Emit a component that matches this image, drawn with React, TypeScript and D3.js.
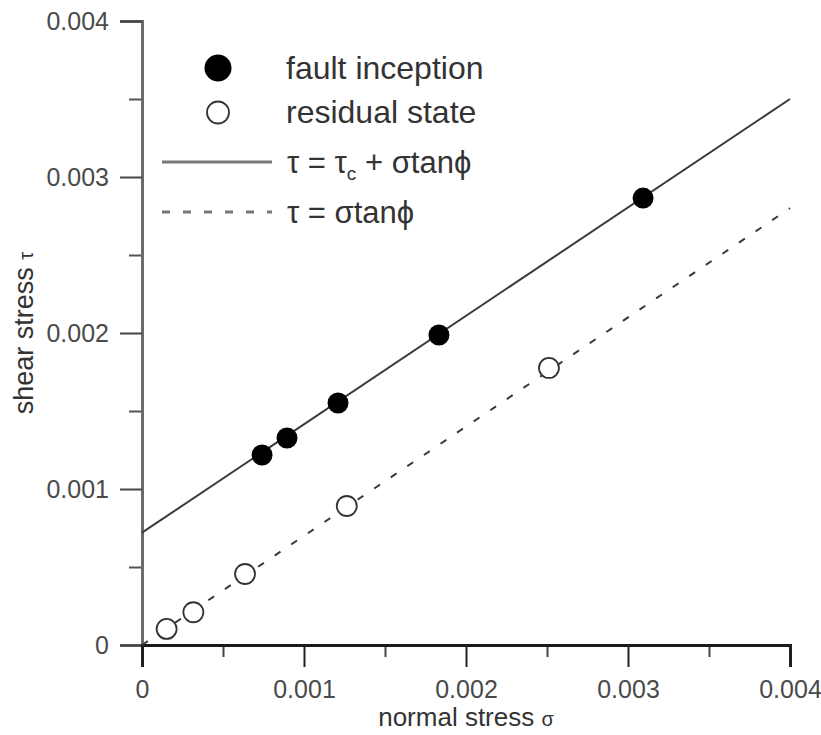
import { useEffect, useRef } from 'react';
import * as d3 from 'd3';

// fault inception (filled) and residual state (open) measurements
const inceptionSigma = [0.000741, 0.000895, 0.00121, 0.001833, 0.003093];
const inceptionTau = [0.001218, 0.001327, 0.001551, 0.001987, 0.002865];
const residualSigma = [0.000152, 0.000317, 0.000636, 0.001264, 0.002512];
const residualTau = [0.000103, 0.00021, 0.000455, 0.000891, 0.001776];

// fitted envelopes: [sigma, tau] end points
const peakFit = [[0, 0.00072], [0.004, 0.0035]];
const residualFit = [[0, 0], [0.004, 0.0028]];

const majorTicks = [0, 0.001, 0.002, 0.003, 0.004];
const minorTicks = [0.0005, 0.0015, 0.0025, 0.0035];
const tickLabels = ['0', '0.001', '0.002', '0.003', '0.004'];

const FONT = '"Liberation Sans", Arial, Helvetica, sans-serif';

export default function App() {
  const svgRef = useRef<SVGSVGElement | null>(null);

  useEffect(() => {
    if (!svgRef.current) return;
    const svg = d3.select(svgRef.current);
    svg.selectAll('*').remove();

    const x = d3.scaleLinear().domain([0, 0.004]).range([142, 790]);
    const y = d3.scaleLinear().domain([0, 0.004]).range([645, 21]);
    const fmt = (d: d3.NumberValue) => tickLabels[majorTicks.indexOf(+d)] ?? '';

    // minor ticks
    svg.append('g')
      .attr('transform', `translate(0,${y(0)})`)
      .call(d3.axisBottom(x).tickValues(minorTicks).tickSize(12).tickFormat(() => ''))
      .call(g => g.select('.domain').remove())
      .selectAll('line').attr('stroke', '#444').attr('stroke-width', 2);

    svg.append('g')
      .attr('transform', `translate(${x(0)},0)`)
      .call(d3.axisLeft(y).tickValues(minorTicks).tickSize(13).tickFormat(() => ''))
      .call(g => g.select('.domain').remove())
      .selectAll('line').attr('stroke', '#555').attr('stroke-width', 2);

    // y axis
    const yAxis = svg.append('g')
      .attr('transform', `translate(${x(0)},0)`)
      .call(d3.axisLeft(y).tickValues(majorTicks).tickSize(22).tickPadding(11).tickFormat(fmt));
    yAxis.select('.domain').attr('stroke', '#6b6b6b').attr('stroke-width', 3);
    yAxis.selectAll('line').attr('stroke', '#444').attr('stroke-width', 2);
    yAxis.selectAll('text')
      .attr('font-family', FONT).attr('font-size', 25).attr('fill', '#4a4a4a');

    // x axis
    const xAxis = svg.append('g')
      .attr('transform', `translate(0,${y(0)})`)
      .call(d3.axisBottom(x).tickValues(majorTicks).tickSize(22).tickPadding(13).tickFormat(fmt));
    xAxis.select('.domain').attr('stroke', '#1a1a1a').attr('stroke-width', 3);
    xAxis.selectAll('line').attr('stroke', '#222').attr('stroke-width', 2);
    xAxis.selectAll('text')
      .attr('font-family', FONT).attr('font-size', 25).attr('fill', '#4a4a4a');

    // fit lines
    const line = d3.line<number[]>().x(d => x(d[0])).y(d => y(d[1]));
    svg.append('path')
      .datum(peakFit)
      .attr('fill', 'none')
      .attr('stroke', '#3a3a3a')
      .attr('stroke-width', 2)
      .attr('d', line);
    svg.append('path')
      .datum(residualFit)
      .attr('fill', 'none')
      .attr('stroke', '#3a3a3a')
      .attr('stroke-width', 2)
      .attr('stroke-dasharray', '7 13')
      .attr('d', line);

    // points
    svg.append('g').selectAll('circle')
      .data(residualSigma)
      .join('circle')
      .attr('cx', d => x(d))
      .attr('cy', (d, i) => y(residualTau[i]))
      .attr('r', 10)
      .attr('fill', '#fff')
      .attr('stroke', '#333')
      .attr('stroke-width', 1.8);

    svg.append('g').selectAll('circle')
      .data(inceptionSigma)
      .join('circle')
      .attr('cx', d => x(d))
      .attr('cy', (d, i) => y(inceptionTau[i]))
      .attr('r', 10.5)
      .attr('fill', '#000');

    // legend
    const lg = svg.append('g').attr('font-family', FONT).attr('fill', '#333');
    lg.append('circle').attr('cx', 218).attr('cy', 68).attr('r', 13.5).attr('fill', '#000');
    lg.append('circle').attr('cx', 218).attr('cy', 112.5).attr('r', 11)
      .attr('fill', '#fff').attr('stroke', '#333').attr('stroke-width', 1.8);
    lg.append('line').attr('x1', 162).attr('x2', 272).attr('y1', 162).attr('y2', 162)
      .attr('stroke', '#777').attr('stroke-width', 3);
    lg.append('line').attr('x1', 162).attr('x2', 272).attr('y1', 212).attr('y2', 212)
      .attr('stroke', '#777').attr('stroke-width', 3).attr('stroke-dasharray', '8 13');

    lg.append('text').attr('x', 286).attr('y', 79).attr('font-size', 32).text('fault inception');
    lg.append('text').attr('x', 286).attr('y', 123).attr('font-size', 32).text('residual state');
    const f1 = lg.append('text').attr('x', 287).attr('y', 173).attr('font-size', 31);
    f1.append('tspan').text('τ = τ');
    f1.append('tspan').attr('font-size', 19).attr('dy', 7).text('c');
    f1.append('tspan').attr('dy', -7).text(' + σtanϕ');
    lg.append('text').attr('x', 287).attr('y', 223).attr('font-size', 31).text('τ = σtanϕ');

    // axis titles
    const xt = svg.append('text')
      .attr('x', 466).attr('y', 726)
      .attr('text-anchor', 'middle')
      .attr('font-family', FONT).attr('font-size', 26).attr('fill', '#333');
    xt.append('tspan').text('normal stress ');
    xt.append('tspan').attr('font-size', 20).text('σ');

    const yt = svg.append('text')
      .attr('transform', 'translate(33,333) rotate(-90)')
      .attr('text-anchor', 'middle')
      .attr('font-family', FONT).attr('font-size', 27).attr('fill', '#333');
    yt.append('tspan').text('shear stress ');
    yt.append('tspan').attr('font-size', 20).text('τ');
  }, []);

  return (
    <svg
      ref={svgRef}
      width={821}
      height={735}
      style={{ position: 'absolute', left: 0, top: 0, background: '#fff' }}
    />
  );
}
